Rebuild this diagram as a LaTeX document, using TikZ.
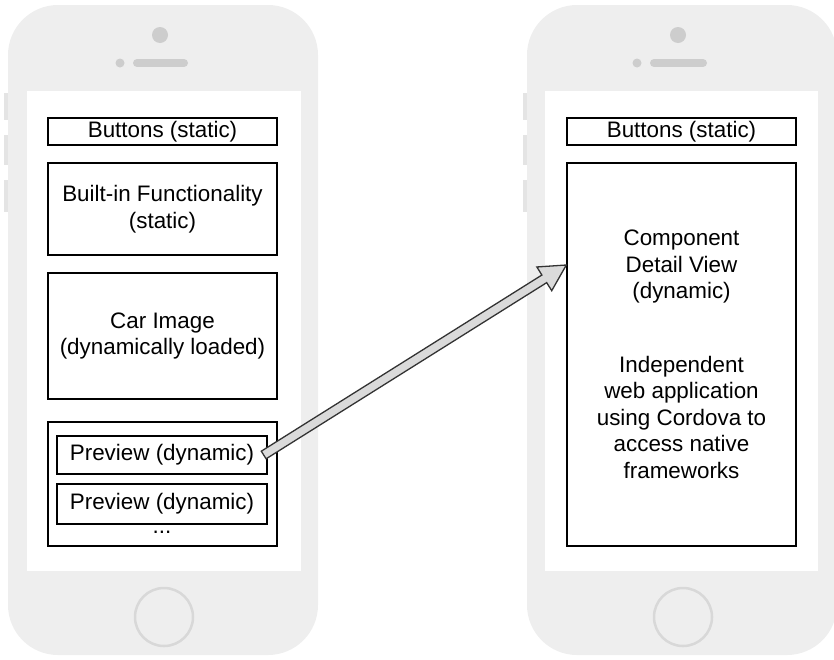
\documentclass[tikz,border=0pt]{standalone}
\usepackage{fontspec}
\setmainfont{Liberation Sans}
\usetikzlibrary{calc}
\definecolor{phonebody}{HTML}{EEEEEE}
\definecolor{phonebump}{HTML}{E4E4E4}
\definecolor{phonecam}{HTML}{CDCDCD}
\definecolor{homering}{HTML}{D8D8D8}
\definecolor{arrowfill}{HTML}{DADADA}
\definecolor{arrowline}{HTML}{333333}
\tikzset{
  box/.style={draw=black, line width=1.4pt, fill=white, inner sep=0pt,
    align=center, font=\fontsize{22.4}{26.5}\selectfont},
  plain/.style={inner sep=0pt, align=center, font=\fontsize{22.4}{26.5}\selectfont},
  body/.style={fill=phonebody, rounded corners=50pt},
  bump/.style={fill=phonebump},
  cam/.style={fill=phonecam},
  speaker/.style={draw=phonecam, line width=8pt, line cap=round},
  homebtn/.style={draw=homering, line width=2.5pt},
  bigarrow/.style={draw=arrowline, fill=arrowfill, line width=1.3pt, line join=miter}
}
\begin{document}
\begin{tikzpicture}[x=1pt,y=-1pt]
\useasboundingbox (0,0) rectangle (834,659);
\clip (0,0) rectangle (834,659);
% ---------- left phone ----------
\fill[bump] (4,93) rectangle (10,120);
\fill[bump] (4,135) rectangle (10,165);
\fill[bump] (4,180) rectangle (10,212);
\fill[body] (8,5) rectangle (318,655);
\fill[white] (27,91) rectangle (301,571);
\fill[cam] (160,35) circle (8);
\fill[cam] (120,63) circle (4.5);
\draw[speaker] (137,63) -- (184,63);
\draw[homebtn] (164,617) circle (29);
% ---------- right phone ----------
\fill[bump] (523,93) rectangle (529,120);
\fill[bump] (523,135) rectangle (529,165);
\fill[bump] (523,180) rectangle (529,212);
\fill[body] (527,5) rectangle (837,655);
\fill[white] (545,91) rectangle (818,571);
\fill[cam] (678,35) circle (8);
\fill[cam] (637,63) circle (4.5);
\draw[speaker] (654,63) -- (703,63);
\draw[homebtn] (683,617) circle (29);
% ---------- left screen content ----------
\node[box, minimum width=229, minimum height=27] (lb) at (162.5,131.5) {Buttons (static)};
\node[box, minimum width=229, minimum height=92] (lf) at (162.5,209) {Built-in Functionality\\(static)};
\node[box, minimum width=229, minimum height=126] (lc) at (162.5,336) {Car Image\\(dynamically loaded)};
\node[box, minimum width=229, minimum height=124] (lcont) at (162.5,484) {};
\node[box, minimum width=210, minimum height=38] (p1) at (162,455) {Preview (dynamic)};
\node[box, minimum width=210, minimum height=40] (p2) at (162,504) {Preview (dynamic)};
\node[plain] (dots) at (162,532) {...};
% ---------- right screen content ----------
\node[box, minimum width=229, minimum height=27] (rb) at (681.5,131.5) {Buttons (static)};
\node[box, minimum width=229, minimum height=383] (rd) at (681.5,354.5)
  {Component\\Detail View\\(dynamic)\\[47pt]Independent\\web application\\using Cordova to\\access native\\frameworks};
% ---------- arrow ----------
\coordinate (hy) at (0,265);
\coordinate (tip) at (rd.west |- hy);
\coordinate (tail) at ($(p1.east)+(-4,0)$);
\coordinate (hb) at ($(tip)!26pt!(tail)$);
\draw[bigarrow]
  ($(tail)!4.5pt!90:(tip)$) --
  ($(hb)!4.5pt!-90:(tail)$) --
  ($(hb)!14pt!-90:(tail)$) --
  (tip) --
  ($(hb)!14pt!90:(tail)$) --
  ($(hb)!4.5pt!90:(tail)$) --
  ($(tail)!4.5pt!-90:(tip)$) -- cycle;
\end{tikzpicture}
\end{document}
